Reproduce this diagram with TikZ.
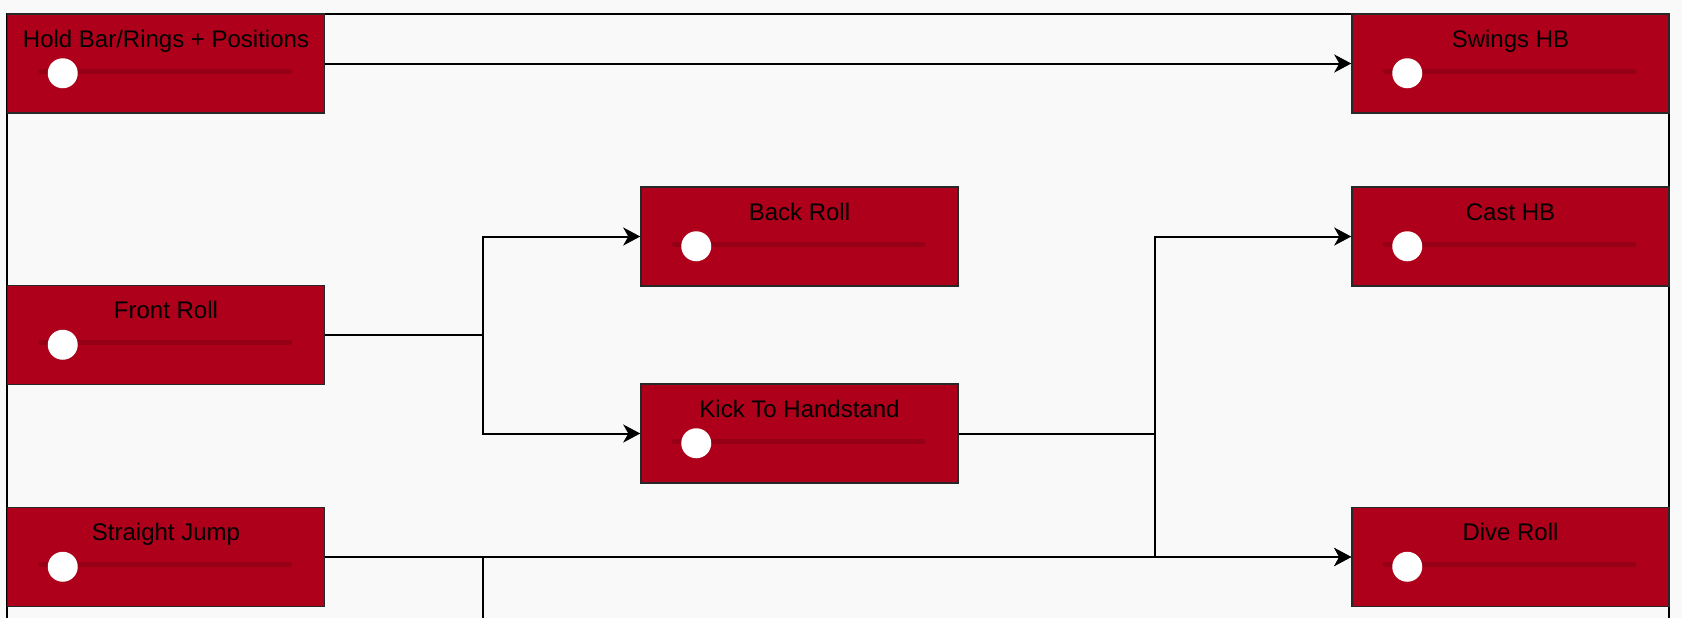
\documentclass[tikz,border=0pt]{standalone}
\usepackage{fontspec}
\setmainfont{Liberation Sans}
\usepackage{xcolor}
\usetikzlibrary{arrows.meta}
\definecolor{bggray}{RGB}{249,249,249}
\definecolor{skillred}{RGB}{174,0,26}
\definecolor{trackred}{RGB}{150,0,22}
\definecolor{skillline}{RGB}{40,40,40}

\begin{document}
\begin{tikzpicture}[x=0.5pt,y=-0.5pt,
  skill/.style={draw=skillline,line width=0.75pt,fill=skillred,minimum width=158.5pt,minimum height=49.5pt,inner sep=0pt},
  lbl/.style={anchor=base,inner sep=0pt,font=\fontsize{12pt}{14pt}\selectfont},
  track/.style={draw=trackred,line width=2.5pt,line cap=round},
  wire/.style={draw=black,line width=1pt},
  conn/.style={wire,-{Stealth[length=8.5pt,width=9pt,inset=2.5pt]}}]
\useasboundingbox (0,0) rectangle (1682,618);
\fill[bggray] (0,0) rectangle (1682,618);
\draw[wire] (7,618) -- (7,14) -- (1669,14) -- (1669,618);
% skills
\node[skill] (hold) at (166,63.5) {};
\node[skill] (swings) at (1510.5,63.5) {};
\node[skill] (back) at (799.5,236.5) {};
\node[skill] (front) at (166,335) {};
\node[skill] (kick) at (799.5,433.5) {};
\node[skill] (cast) at (1510.5,236.5) {};
\node[skill] (straight) at (166,557) {};
\node[skill] (dive) at (1510.5,557) {};
\node[lbl] (hold-t) at ([yshift=-17pt]hold.north) {Hold Bar/Rings + Positions};
\node[lbl] (swings-t) at ([yshift=-17pt]swings.north) {Swings HB};
\node[lbl] (back-t) at ([yshift=-17pt]back.north) {Back Roll};
\node[lbl] (front-t) at ([yshift=-17pt]front.north) {Front Roll};
\node[lbl] (kick-t) at ([yshift=-17pt]kick.north) {Kick To Handstand};
\node[lbl] (cast-t) at ([yshift=-17pt]cast.north) {Cast HB};
\node[lbl] (straight-t) at ([yshift=-17pt]straight.north) {Straight Jump};
\node[lbl] (dive-t) at ([yshift=-17pt]dive.north) {Dive Roll};
% sliders
\foreach \s in {hold,swings,back,front,kick,cast,straight,dive}{
  \draw[track] ([xshift=17pt,yshift=-29pt]\s.north west) -- ([xshift=141.5pt,yshift=-29pt]\s.north west);
  \fill[white] ([xshift=28pt,yshift=-30pt]\s.north west) circle (7.5pt);
}
% links
\coordinate (fj) at (483,335);
\coordinate (kj) at (1155,433.5);
\coordinate (sj) at (483,557);
\coordinate (sdown) at (483,618);
\draw[conn] (hold.east) -- (swings.west);
\draw[conn] (front.east) -- (fj) |- (back.west);
\draw[conn] (fj) |- (kick.west);
\draw[conn] (kick.east) -- (kj) |- (cast.west);
\draw[conn] (kj) |- (dive.west);
\draw[conn] (straight.east) -- (dive.west);
\draw[wire] (straight.east) -- (sj) -- (sdown);
\end{tikzpicture}
\end{document}
